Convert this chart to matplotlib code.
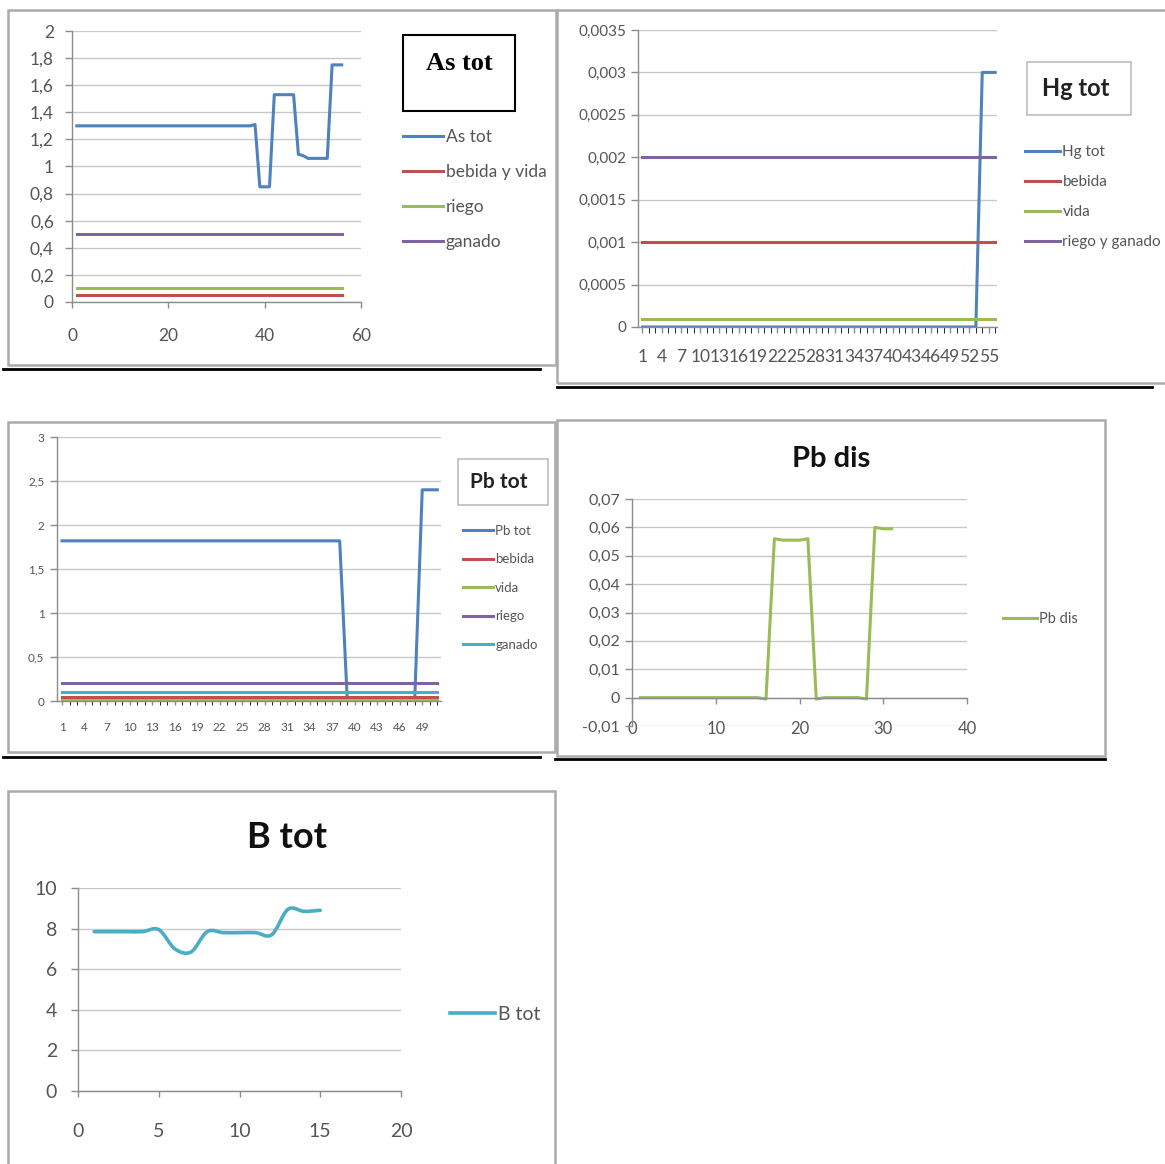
import numpy as np
import matplotlib
matplotlib.use("Agg")
import matplotlib.pyplot as plt
from matplotlib.lines import Line2D
from matplotlib.patches import Rectangle, PathPatch
from matplotlib.path import Path
from matplotlib.ticker import FuncFormatter, MultipleLocator

plt.rcParams['font.family'] = ['Lato', 'DejaVu Sans']

# --- data ---
# As tot (samples 1..56)
as_tot = [1.3, 1.3, 1.3, 1.3, 1.3, 1.3, 1.3, 1.3, 1.3, 1.3,
          1.3, 1.3, 1.3, 1.3, 1.3, 1.3, 1.3, 1.3, 1.3, 1.3,
          1.3, 1.3, 1.3, 1.3, 1.3, 1.3, 1.3, 1.3, 1.3, 1.3,
          1.3, 1.3, 1.3, 1.3, 1.3, 1.3, 1.3, 1.31, 0.85, 0.85,
          0.85, 1.53, 1.53, 1.53, 1.53, 1.53, 1.09, 1.08, 1.06, 1.06,
          1.06, 1.06, 1.06, 1.75, 1.75, 1.75]
as_limits = [("bebida y vida", 0.05), ("riego", 0.1), ("ganado", 0.5)]

# Hg tot (samples 1..56)
hg_tot = [0, 0, 0, 0, 0, 0, 0, 0, 0, 0,
          0, 0, 0, 0, 0, 0, 0, 0, 0, 0,
          0, 0, 0, 0, 0, 0, 0, 0, 0, 0,
          0, 0, 0, 0, 0, 0, 0, 0, 0, 0,
          0, 0, 0, 0, 0, 0, 0, 0, 0, 0,
          0, 0, 0, 0.003, 0.003, 0.003]
hg_limits = [("bebida", 0.001), ("vida", 0.0001), ("riego y ganado", 0.002)]

# Pb tot (samples 1..51)
pb_tot = [1.82, 1.82, 1.82, 1.82, 1.82, 1.82, 1.82, 1.82, 1.82, 1.82,
          1.82, 1.82, 1.82, 1.82, 1.82, 1.82, 1.82, 1.82, 1.82, 1.82,
          1.82, 1.82, 1.82, 1.82, 1.82, 1.82, 1.82, 1.82, 1.82, 1.82,
          1.82, 1.82, 1.82, 1.82, 1.82, 1.82, 1.82, 1.82, 0.03, 0.03,
          0.02, 0.02, 0.01, 0.01, 0.01, 0.01, 0.02, 0.02, 2.4, 2.4,
          2.4]
pb_limits = [("bebida", 0.05), ("vida", 0.01), ("riego", 0.2), ("ganado", 0.1)]

# Pb dis (samples 1..31)
pb_dis = [0, 0, 0, 0, 0, 0, 0, 0, 0, 0,
          0, 0, 0, 0, 0, -0.0005, 0.056, 0.0555, 0.0555, 0.0555,
          0.056, -0.0005, 0, 0, 0, 0, 0, -0.0005, 0.06, 0.0595,
          0.0595]

# B tot (samples 1..15)
b_tot = [7.85, 7.85, 7.85, 7.85, 7.95, 7.0, 6.85, 7.85, 7.8, 7.8,
         7.8, 7.7, 8.95, 8.85, 8.9]

BLUE, RED, GREEN, PURPLE, AQUA = '#4F81BD', '#C0504D', '#9BBB59', '#8064A2', '#4BACC6'
GRID = '#C8C8C8'
AXIS = '#8C8C8C'
LABEL = '#555555'
LW = 2.2

W, H = 1165, 1164
fig = plt.figure(figsize=(W / 100, H / 100), dpi=100)


def rect(x0, y0, x1, y1):
    return [x0 / W, 1 - y1 / H, (x1 - x0) / W, (y1 - y0) / H]


def frame(x0, y0, x1, y1, color='#ABABAB', lw=1.8):
    fig.add_artist(Rectangle((x0 / W, 1 - y1 / H), (x1 - x0) / W, (y1 - y0) / H,
                             transform=fig.transFigure, fill=False, ec=color, lw=lw))


def rule(x0, x1, y):
    fig.add_artist(Line2D([x0 / W, x1 / W], [1 - y / H, 1 - y / H],
                          transform=fig.transFigure, color='black', lw=2))


def comma(v, pos):
    return ('%g' % round(v, 6)).replace('.', ',')


def style(ax, fs):
    for s in ['top', 'right']:
        ax.spines[s].set_visible(False)
    for s in ['left', 'bottom']:
        ax.spines[s].set_color(AXIS)
        ax.spines[s].set_linewidth(1)
    ax.grid(axis='y', color=GRID, lw=1)
    ax.set_axisbelow(True)
    ax.tick_params(colors=AXIS, labelcolor=LABEL, labelsize=fs, length=4, width=1)
    ax.tick_params(axis='y', length=5)
    ax.yaxis.set_major_formatter(FuncFormatter(comma))


def smooth(ax, x, y, color, lw):
    # excel-style smoothed line drawn as a bezier path
    x = np.asarray(x, float)
    y = np.asarray(y, float)
    n = len(x)
    verts = [(x[0], y[0])]
    codes = [Path.MOVETO]
    for i in range(n - 1):
        a = max(i - 1, 0)
        d = min(i + 2, n - 1)
        c1 = (x[i] + (x[i + 1] - x[a]) / 6, y[i] + (y[i + 1] - y[a]) / 6)
        c2 = (x[i + 1] - (x[d] - x[i]) / 6, y[i + 1] - (y[d] - y[i]) / 6)
        verts += [c1, c2, (x[i + 1], y[i + 1])]
        codes += [Path.CURVE4] * 3
    ax.add_patch(PathPatch(Path(verts, codes), fill=False, ec=color, lw=lw,
                           capstyle='round', joinstyle='round'))
    return Line2D([], [], color=color, lw=lw)


def legend(ax, handles, labels, x, y, fs, spacing):
    ax.legend(handles, labels, loc='upper left', bbox_to_anchor=(x / W, 1 - y / H),
              bbox_transform=fig.transFigure, frameon=False, fontsize=fs,
              handlelength=2.3, handletextpad=0.15, labelspacing=spacing,
              borderpad=0, borderaxespad=0, labelcolor=LABEL)


# ---------------- As tot ----------------
frame(8, 10, 556, 365)
rule(3, 540, 369)
ax1 = fig.add_axes(rect(72, 31, 361, 302))
style(ax1, 12.5)
x1 = np.arange(1, len(as_tot) + 1)
h = [ax1.plot(x1, as_tot, color=BLUE, lw=LW, solid_joinstyle='round')[0]]
for (name, val), col in zip(as_limits, [RED, GREEN, PURPLE]):
    h.append(ax1.plot(x1, np.full(len(x1), val), color=col, lw=LW)[0])
ax1.set_xlim(0, 60)
ax1.set_ylim(0, 2)
ax1.set_xticks([0, 20, 40, 60])
ax1.yaxis.set_major_locator(MultipleLocator(0.2))
ax1.tick_params(axis='x', pad=15)
ax1.tick_params(axis='y', pad=8)
legend(ax1, h, ["As tot"] + [n for n, _ in as_limits], 403, 129, 12.5, 1.1)
fig.add_artist(Rectangle((403 / W, 1 - 111 / H), 112 / W, 76 / H, transform=fig.transFigure,
                         fill=False, ec='black', lw=1.5))
fig.text(459 / W, 1 - 63 / H, "As tot", family='Liberation Serif', weight='bold',
         fontsize=19, ha='center', va='center')

# ---------------- Hg tot ----------------
frame(557, 10, 1175, 383)
rule(557, 1152, 387)
ax2 = fig.add_axes(rect(638, 30, 997, 327))
style(ax2, 11)
x2 = np.arange(1, len(hg_tot) + 1)
h = [ax2.plot(x2, hg_tot, color=BLUE, lw=LW)[0]]
for (name, val), col in zip(hg_limits, [RED, GREEN, PURPLE]):
    h.append(ax2.plot(x2, np.full(len(x2), val), color=col, lw=LW)[0])
ax2.set_xlim(0.3, 56.3)
ax2.set_ylim(0, 0.0035)
ax2.yaxis.set_major_locator(MultipleLocator(0.0005))
ax2.set_xticks(x2[::3])
ax2.set_xticks(x2, minor=True)
ax2.tick_params(axis='x', which='both', length=4, pad=12)
ax2.tick_params(axis='x', which='major', labelsize=12.5)
legend(ax2, h, ["Hg tot"] + [n for n, _ in hg_limits], 1025, 145, 11, 1.05)
frame(1027, 62, 1131, 115, color='#BEBEBE', lw=1.2)
fig.text(1076 / W, 1 - 88 / H, "Hg tot", weight='bold', fontsize=17,
         ha='center', va='center', color='#222222')

# ---------------- Pb tot ----------------
frame(8, 422, 555, 752)
rule(3, 540, 757)
ax3 = fig.add_axes(rect(57, 437, 441, 701))
style(ax3, 8.5)
x3 = np.arange(1, len(pb_tot) + 1)
h = [ax3.plot(x3, pb_tot, color=BLUE, lw=LW)[0]]
for (name, val), col in zip(pb_limits, [RED, GREEN, PURPLE, AQUA]):
    h.append(ax3.plot(x3, np.full(len(x3), val), color=col, lw=LW)[0])
ax3.set_xlim(0.33, 51.5)
ax3.set_ylim(0, 3)
ax3.yaxis.set_major_locator(MultipleLocator(0.5))
ax3.set_xticks(x3[::3])
ax3.set_xticks(x3, minor=True)
ax3.tick_params(axis='x', which='both', length=3, pad=12)
ax3.tick_params(axis='y', pad=4)
legend(ax3, h, ["Pb tot"] + [n for n, _ in pb_limits], 463, 525, 9.5, 1.25)
frame(458, 459, 548, 505, color='#BEBEBE', lw=1.2)
fig.text(499 / W, 1 - 482 / H, "Pb tot", weight='bold', fontsize=15,
         ha='center', va='center', color='#222222')

# ---------------- Pb dis ----------------
frame(557, 420, 1105, 756)
rule(555, 1105, 759)
ax4 = fig.add_axes(rect(632, 499, 967, 726))
style(ax4, 11.5)
x4 = np.arange(1, len(pb_dis) + 1)
h4 = ax4.plot(x4, pb_dis, color=GREEN, lw=LW, solid_joinstyle='round')[0]
ax4.set_xlim(0, 40)
ax4.set_ylim(-0.01, 0.07)
ax4.yaxis.set_major_locator(MultipleLocator(0.01))
ax4.set_xticks([0, 10, 20, 30, 40])
ax4.spines['bottom'].set_position(('data', 0))
ax4.tick_params(axis='x', length=4, pad=13, labelsize=12)
legend(ax4, [h4], ["Pb dis"], 1003, 612, 10.5, 1.0)
fig.text(831 / W, 1 - 459 / H, "Pb dis", weight='bold', fontsize=21,
         ha='center', va='center', color='#111111')

# ---------------- B tot ----------------
frame(8, 791, 555, 1175)
ax5 = fig.add_axes(rect(78, 888, 401, 1091))
style(ax5, 14)
x5 = np.arange(1, len(b_tot) + 1)
h5 = smooth(ax5, x5, b_tot, AQUA, 2.6)
ax5.set_xlim(0, 20)
ax5.set_ylim(0, 10)
ax5.set_xticks([0, 5, 10, 15, 20])
ax5.yaxis.set_major_locator(MultipleLocator(2))
ax5.tick_params(axis='x', pad=19)
ax5.tick_params(axis='y', pad=10)
legend(ax5, [h5], ["B tot"], 450, 1006, 14, 1.0)
fig.text(287 / W, 1 - 838 / H, "B tot", weight='bold', fontsize=26,
         ha='center', va='center', color='#111111')

fig.savefig("out.png", dpi=100, facecolor='white')
